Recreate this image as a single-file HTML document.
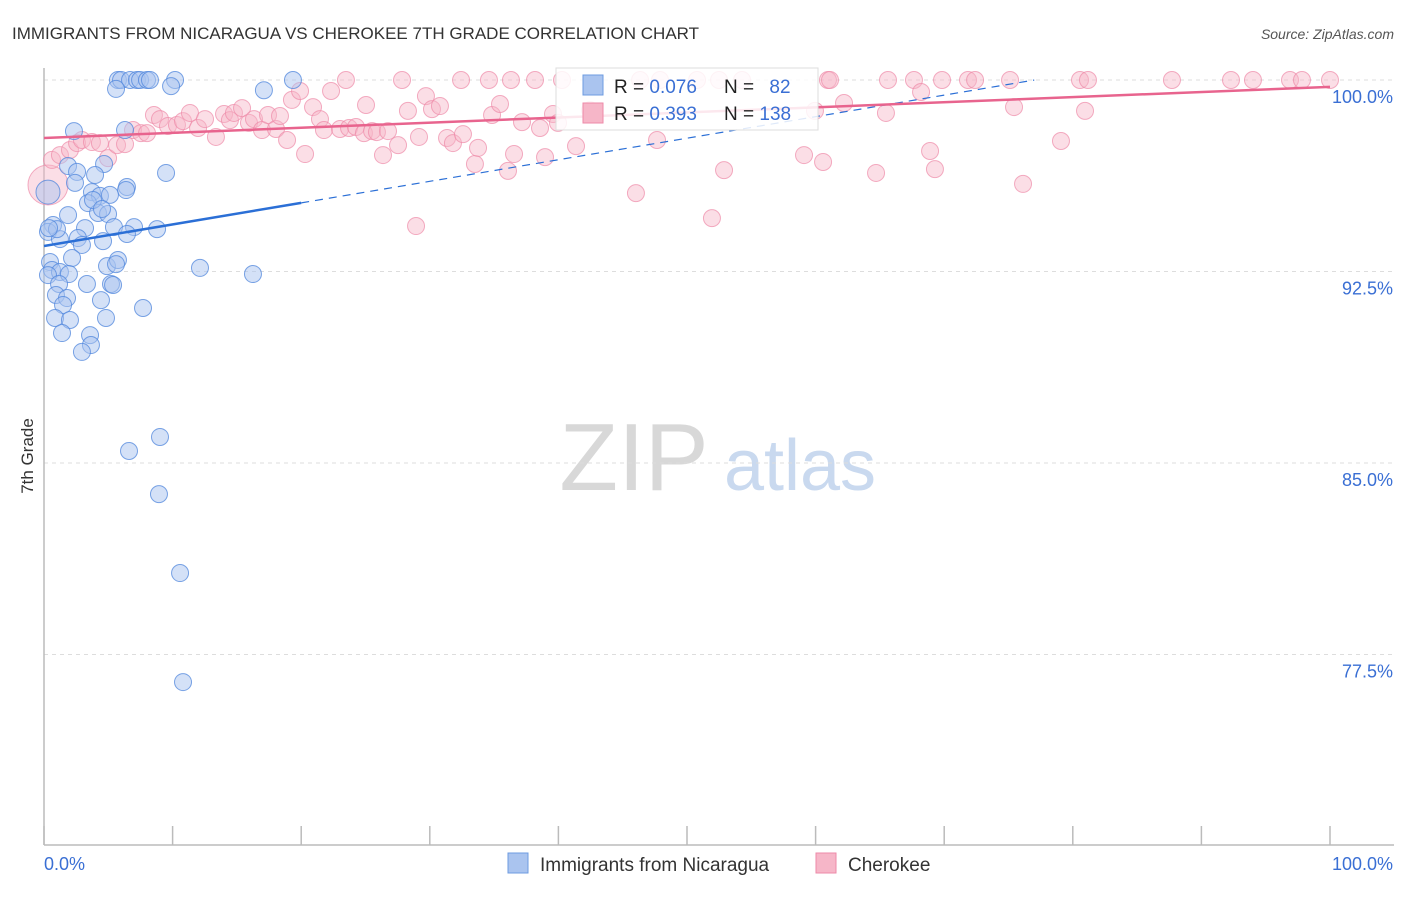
<!DOCTYPE html>
<html><head><meta charset="utf-8"><style>
body{margin:0;background:#fff;font-family:"Liberation Sans",sans-serif;}
svg text{font-family:"Liberation Sans",sans-serif;}
</style></head><body>
<svg id="chart" width="1406" height="892" xmlns="http://www.w3.org/2000/svg">
<text x="12" y="39" font-size="17" fill="#333">IMMIGRANTS FROM NICARAGUA VS CHEROKEE 7TH GRADE CORRELATION CHART</text>
<text x="1394" y="39" font-size="14" fill="#555" font-style="italic" text-anchor="end">Source: ZipAtlas.com</text>
<text transform="translate(33,456) rotate(-90)" font-size="17" fill="#333" text-anchor="middle">7th Grade</text>
<g><text x="634" y="490" font-size="96" fill="#d8d8d8" text-anchor="middle" font-family="Liberation Serif">ZIP</text><text x="800" y="490" font-size="72" fill="#c9d9ef" text-anchor="middle">atlas</text></g>
<g id="grid"></g><g id="axes"></g><g id="pts"></g><g id="lines"></g>
<g>
<rect x="556" y="68" width="262" height="62" fill="#fff" fill-opacity="0.85" stroke="#ddd"/>
<rect x="583" y="75" width="20" height="20" fill="#aac4ef" stroke="#6d9be0"/>
<rect x="583" y="103" width="20" height="20" fill="#f6b6c8" stroke="#ee8aa8"/>
<text x="614" y="93" font-size="19" fill="#222">R = <tspan fill="#3a6fd4">0.076</tspan></text>
<text x="724" y="93" font-size="19" fill="#222">N = <tspan fill="#3a6fd4" dx="10">82</tspan></text>
<text x="614" y="120" font-size="19" fill="#222">R = <tspan fill="#3a6fd4">0.393</tspan></text>
<text x="724" y="120" font-size="19" fill="#222">N = <tspan fill="#3a6fd4">138</tspan></text>
</g>
<g>
<rect x="508" y="853" width="20" height="20" fill="#aac4ef" stroke="#6d9be0"/>
<text x="540" y="871" font-size="19" fill="#333">Immigrants from Nicaragua</text>
<rect x="816" y="853" width="20" height="20" fill="#f6b6c8" stroke="#ee8aa8"/>
<text x="848" y="871" font-size="19" fill="#333">Cherokee</text>
</g>
</svg>
<script>
const blueX=[5.75,5.99,6.69,7.23,7.47,8.01,8.24,10.19,19.36,5.6,9.88,17.1,2.33,6.3,4.67,1.87,2.57,3.97,2.41,3.73,6.45,6.38,9.49,4.35,3.42,1.87,4.2,4.98,0.7,3.19,5.44,7.0,8.79,0.31,1.24,2.64,2.95,4.59,6.45,0.47,2.18,4.9,5.75,5.6,12.13,16.25,0.62,1.24,1.94,0.31,1.17,3.34,5.21,5.37,0.93,1.79,4.43,1.48,7.7,0.86,2.02,4.82,1.4,3.58,3.65,2.95,9.02,6.61,8.94,10.58,10.81,0.31,5.13,3.81,1.01,0.39,4.51];
const blueY=[100,100,100,100,100,100,100,100,100,99.65,99.76,99.6,98.0,98.04,96.71,96.63,96.4,96.28,95.97,95.61,95.81,95.69,96.36,95.46,95.18,94.71,94.79,94.75,94.32,94.2,94.24,94.24,94.16,94.05,93.77,93.81,93.54,93.69,93.97,92.87,93.03,92.71,92.95,92.79,92.64,92.4,92.56,92.48,92.4,92.36,92.01,92.01,92.01,91.97,91.58,91.46,91.38,91.19,91.07,90.68,90.6,90.68,90.09,90.01,89.62,89.35,86.02,85.47,83.78,80.69,76.42,95.61,95.5,95.3,94.16,94.2,94.95];
const pinkX=[23.48,27.84,32.43,34.6,36.31,38.18,40.28,46.35,47.9,50.78,52.49,54.28,60.96,61.12,65.63,67.65,69.83,71.85,72.4,75.12,80.56,81.18,87.71,92.3,94.01,96.89,97.82,100,0.31,0.62,1.24,2.02,2.57,2.95,3.73,4.35,4.98,5.68,6.3,6.92,7.54,8.01,8.55,9.02,9.64,10.34,10.81,11.35,11.98,12.52,13.37,14.0,14.46,14.77,15.4,15.94,16.33,16.95,17.42,18.04,18.35,18.9,19.28,19.91,20.3,20.92,21.46,21.77,22.32,23.02,23.72,24.26,24.88,25.04,25.51,25.89,26.36,26.75,27.53,28.3,28.93,29.16,29.7,30.17,30.79,31.34,31.8,32.58,33.51,33.75,34.84,35.46,36.08,36.55,37.17,38.57,38.96,39.58,39.97,41.37,42.46,46.03,47.67,51.94,52.88,59.1,59.95,60.58,62.21,64.7,65.47,68.2,68.9,69.28,75.43,76.13,79.08,80.95];
const pinkY=[100,100,100,100,100,100,100,100,100,100,100,100,100,100,100,100,100,100,100,100,100,100,100,100,100,100,100,100,95.89,96.87,97.06,97.26,97.53,97.65,97.57,97.53,96.94,97.45,97.49,98.04,97.92,97.92,98.63,98.47,98.2,98.24,98.39,98.71,98.12,98.47,97.77,98.67,98.43,98.71,98.9,98.32,98.47,98.04,98.63,98.08,98.59,97.65,99.22,99.57,97.1,98.94,98.47,98.04,99.57,98.08,98.12,98.16,97.92,99.02,98.0,97.96,97.06,98.0,97.45,98.79,94.28,97.77,99.37,98.86,98.98,97.73,97.53,97.88,96.71,97.34,98.63,99.06,96.44,97.1,98.35,98.12,96.98,98.67,98.32,97.41,98.82,95.57,97.65,94.59,96.47,97.06,98.79,96.79,99.1,96.36,98.71,99.53,97.22,96.51,98.94,95.93,97.61,98.79];
const yTicks=[100,92.5,85,77.5];
const yTickLabels=["100.0%","92.5%","85.0%","77.5%"];
const xTickVals=[0,10,20,30,40,50,60,70,80,90,100];
const xEndLabels=["0.0%","100.0%"];
const blueTrend=[93.5,0.0844];
const pinkTrend=[97.73,0.02];
const NS="http://www.w3.org/2000/svg";
const X=v=>44+v*12.86;
const Y=v=>80+(100-v)*25.533;
function mk(tag,attrs,parent){const e=document.createElementNS(NS,tag);for(const k in attrs)e.setAttribute(k,attrs[k]);parent.appendChild(e);return e;}
const grid=document.getElementById('grid'),axes=document.getElementById('axes'),pts=document.getElementById('pts'),lines=document.getElementById('lines');
yTicks.forEach((t,i)=>{
 const l=mk('line',{x1:44,x2:1394,y1:Y(t),y2:Y(t),stroke:'#ddd','stroke-dasharray':'4,4'},grid);
 
 
 const tx=mk('text',{x:1393,y:Y(t)+23,'font-size':18,fill:'#3a6fd4','text-anchor':'end'},axes);
 tx.textContent=yTickLabels[i];
 
 
});
const ya=mk('line',{x1:44,x2:44,y1:68,y2:845,stroke:'#bbb','stroke-width':1.5},axes);


const xa=mk('line',{x1:44,x2:1394,y1:845,y2:845,stroke:'#bbb','stroke-width':1.5},axes);


xTickVals.forEach(v=>{
 const l=mk('line',{x1:X(v),x2:X(v),y1:826,y2:845,stroke:'#bbb','stroke-width':1.5},axes);
 
 
});
const xl0=mk('text',{x:44,y:870,'font-size':18,fill:'#3a6fd4'},axes);xl0.textContent=xEndLabels[0];


const xl1=mk('text',{x:1393,y:870,'font-size':18,fill:'#3a6fd4','text-anchor':'end'},axes);xl1.textContent=xEndLabels[1];


pinkX.forEach((x,i)=>{
 const c=mk('circle',{cx:X(x),cy:Y(pinkY[i]),r:(i==28?20:8.5),fill:'#f6b6c8','fill-opacity':0.45,stroke:'#ee8aa8','stroke-opacity':0.7},pts);
 
 
});
blueX.forEach((x,i)=>{
 const c=mk('circle',{cx:X(x),cy:Y(blueY[i]),r:(i==71?12:8.5),fill:'#aac4ef','fill-opacity':0.5,stroke:'#4f86dc','stroke-opacity':0.75},pts);
 
 
});
const bt=x=>blueTrend[0]+blueTrend[1]*x;
const b1=mk('line',{x1:X(0),y1:Y(bt(0)),x2:X(20),y2:Y(bt(20)),stroke:'#2b6fd6','stroke-width':2.5},lines);


const b2=mk('line',{x1:X(20),y1:Y(bt(20)),x2:X(77),y2:Y(bt(77)),stroke:'#2b6fd6','stroke-width':1.2,'stroke-dasharray':'8,6'},lines);


const pt=x=>pinkTrend[0]+pinkTrend[1]*x;
const p1=mk('line',{x1:X(0),y1:Y(pt(0)),x2:X(100),y2:Y(pt(100)),stroke:'#e8648e','stroke-width':2.5},lines);


</script>
</body></html>
